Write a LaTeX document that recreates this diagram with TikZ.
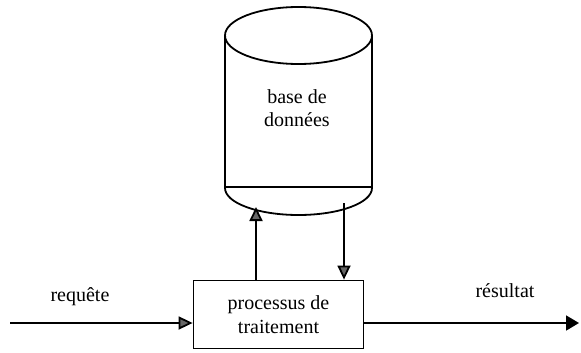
\documentclass[tikz,border=0pt]{standalone}
\usepackage{fontspec}
\setmainfont{Liberation Serif}
\usetikzlibrary{arrows.meta}
\begin{document}
\begin{tikzpicture}[x=1pt,y=-1pt,
  line width=1.8pt,
  lbl/.style={font=\fontsize{20}{25}\selectfont, align=center, inner sep=0pt},
  garrow/.style={-{Triangle[length=14pt,width=13pt,fill=black!60]}, draw=black},
  barrow/.style={-{Triangle[length=13pt,width=15pt]}}]
\useasboundingbox (0,0) rectangle (581,353);
% cylinder
\draw (225,35.5) -- (225,188) arc[start angle=180,end angle=0,x radius=73.5,y radius=27] -- (372,35.5);
\draw (298.5,35.5) ellipse[x radius=73.5,y radius=28.5];
\draw[line width=1.2pt] (225,187) -- (372,187);
\node[lbl] (db) at (297,108) {base de\\[-2pt]données};
\coordinate (dbin) at (256,207);
\coordinate (dbout) at (344,203);
% process box
\node[draw, minimum width=170pt, minimum height=68pt, lbl] (proc) at (278.5,314.5) {processus de\\[-1pt]traitement};
\coordinate (in) at (10,323);
\coordinate (out) at (579,323);
\draw[garrow] (in) -- (in -| proc.west);
\draw[barrow] (out -| proc.east) -- (out);
\draw[garrow] (proc.north -| dbin) -- (dbin);
\draw[garrow] (dbout) -- (dbout |- proc.north);
\node[lbl] (req) at (80,297) {requête};
\node[lbl] (res) at (505,291) {résultat};
\end{tikzpicture}
\end{document}
